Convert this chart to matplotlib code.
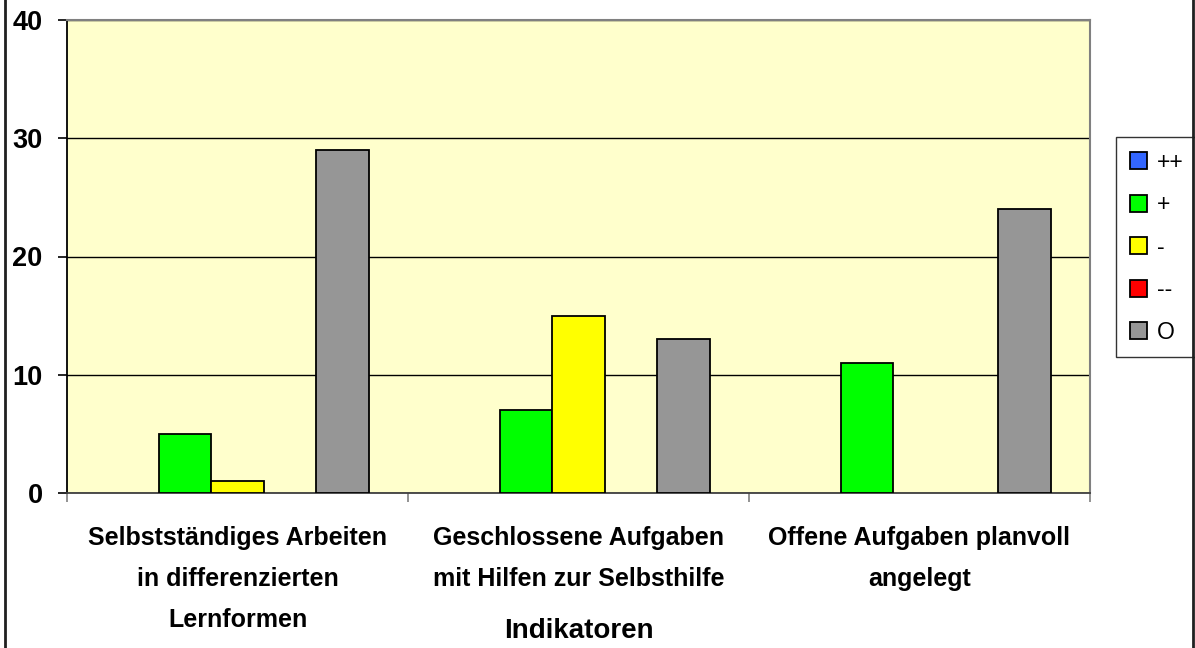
import numpy as np
import matplotlib.pyplot as plt
from matplotlib.lines import Line2D

# Data
categories = ['Selbstständiges Arbeiten\nin differenzierten\nLernformen',
              'Geschlossene Aufgaben\nmit Hilfen zur Selbsthilfe',
              'Offene Aufgaben planvoll\nangelegt']
series = ['++', '+', '-', '--', 'O']
colors = ['#3366FF', '#00FF00', '#FFFF00', '#FF0000', '#969696']
values = {
    '++': [0, 0, 0],
    '+': [5, 7, 11],
    '-': [1, 15, 0],
    '--': [0, 0, 0],
    'O': [29, 13, 24],
}
yticks = [0, 10, 20, 30, 40]

plt.rcParams['font.family'] = ['Liberation Sans', 'DejaVu Sans']

fig = plt.figure(figsize=(11.95, 6.48), dpi=100)
ax = fig.add_axes([67/1195, 1 - 493/648, (1090 - 67)/1195, (493 - 20)/648])
ax.set_facecolor('#FFFFCC')

x = np.arange(len(categories))
w = 1 / 6.5
for i, s in enumerate(series):
    v = np.array(values[s])
    ax.bar(x + (i - 2) * w, v, w, color=colors[i], edgecolor='black',
           linewidth=np.where(v > 0, 1.3, 0), label=s, zorder=3)

ax.set_xlim(-0.5, len(categories) - 0.5)
ax.set_ylim(0, 40)
ax.set_yticks(yticks)
ax.set_yticklabels([str(v) for v in yticks], fontsize=19.5, fontweight='bold')
ax.yaxis.grid(True, color='black', linewidth=1.0, zorder=1)
ax.set_axisbelow(True)

ax.set_xticks(x)
ax.set_xticklabels(categories, fontsize=18, fontweight='bold', linespacing=1.88)
ax.set_xticks(np.arange(len(categories) + 1) - 0.5, minor=True)
ax.tick_params(axis='x', which='major', length=0, pad=24)
ax.tick_params(axis='x', which='minor', length=6.5, width=1.2, color='#808080')
ax.tick_params(axis='y', length=6.5, width=1.2, pad=11)

ax.set_xlabel('Indikatoren', fontsize=20, fontweight='bold')
ax.xaxis.set_label_coords(0.5, (493 - 631) / 473)
ax.xaxis.label.set_va('center')

for side in ['top', 'right']:
    ax.spines[side].set_color('#808080')
    ax.spines[side].set_linewidth(1.5)
ax.spines['left'].set_color('black')
ax.spines['left'].set_linewidth(1.3)
ax.spines['bottom'].set_color('#404040')
ax.spines['bottom'].set_linewidth(1.3)

leg = ax.legend(loc='upper left', bbox_to_anchor=(1116/1195, 1 - 137/648),
                bbox_transform=fig.transFigure, fontsize=16.5, frameon=True,
                fancybox=False, edgecolor='black', handlelength=0.75,
                handleheight=0.75, handletextpad=0.45, labelspacing=0.85,
                borderpad=0.6, borderaxespad=0)
leg.get_frame().set_linewidth(1.0)
for p in leg.get_patches():
    p.set_linewidth(1.3)

# outer chart border
fig.add_artist(Line2D([5/1195, 5/1195], [0, 1], color='#202020', linewidth=2,
                      transform=fig.transFigure))
fig.add_artist(Line2D([1193/1195, 1193/1195], [0, 1], color='#202020', linewidth=2,
                      transform=fig.transFigure))

fig.savefig('out.png', dpi=100)
